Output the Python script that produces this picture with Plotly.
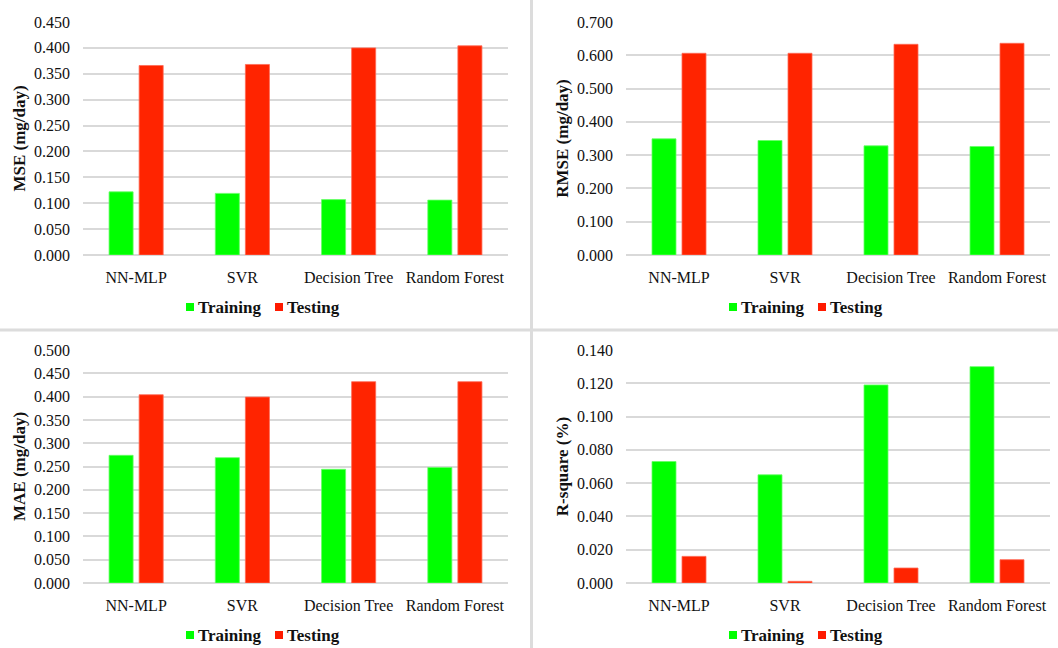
import plotly.graph_objects as go
from plotly.subplots import make_subplots

# Model names and error metrics for the training and testing sets
models = ["NN-MLP", "SVR", "Decision Tree", "Random Forest"]

mse_train = [0.122, 0.119, 0.107, 0.106]
mse_test = [0.366, 0.368, 0.400, 0.404]

rmse_train = [0.349, 0.344, 0.328, 0.326]
rmse_test = [0.606, 0.606, 0.633, 0.636]

mae_train = [0.274, 0.269, 0.244, 0.248]
mae_test = [0.404, 0.399, 0.432, 0.432]

r2_train = [0.073, 0.065, 0.119, 0.130]
r2_test = [0.016, 0.001, 0.009, 0.014]

series_names = ["Training", "Testing"]

panels = [
    ("MSE (mg/day)", mse_train, mse_test, 0.45, 0.05),
    ("RMSE (mg/day)", rmse_train, rmse_test, 0.70, 0.10),
    ("MAE (mg/day)", mae_train, mae_test, 0.50, 0.05),
    ("R-square (%)", r2_train, r2_test, 0.14, 0.02),
]

GREEN = "#00FF00"
RED = "#FF2400"
LEG_RED = "#FF1A00"
FONT = "Liberation Serif"
GRID = "#D9D9D9"
TXT = "#111111"

W, H = 1058, 648
# plot areas in pixels: (left, right, top, bottom)
boxes = [
    (83, 508, 22, 255),
    (626, 1050, 22, 255),
    (83, 508, 350, 583),
    (626, 1050, 350, 583),
]

fig = make_subplots(rows=2, cols=2)

for i, (title, tr, te, ymax, dtick) in enumerate(panels):
    r, c = i // 2 + 1, i % 2 + 1
    fig.add_trace(go.Bar(x=models, y=tr, name=series_names[0], marker_color=GREEN,
                         marker_line=dict(color="#66FF66", width=0.8),
                         showlegend=False),
                  row=r, col=c)
    fig.add_trace(go.Bar(x=models, y=te, name=series_names[1], marker_color=RED,
                         marker_line=dict(color="#FF6A55", width=0.8),
                         showlegend=False),
                  row=r, col=c)
    l, rt, t, b = boxes[i]
    sfx = "" if i == 0 else str(i + 1)
    fig.layout["xaxis" + sfx].update(
        domain=[l / W, rt / W], automargin=False,
        tickfont=dict(family=FONT, size=16, color=TXT),
        showline=False, ticks="", showgrid=False, ticklabelstandoff=11,
    )
    fig.layout["yaxis" + sfx].update(
        domain=[1 - b / H, 1 - t / H], automargin=False,
        range=[0, ymax], dtick=dtick, tickformat=".3f",
        showgrid=True, gridcolor=GRID, gridwidth=1.5,
        zeroline=True, zerolinecolor=GRID, zerolinewidth=1.5,
        tickfont=dict(family=FONT, size=16, color=TXT),
        ticklabelstandoff=12,
        title=dict(text="<b>" + title + "</b>", standoff=4,
                   font=dict(family=FONT, size=17, color=TXT)),
        showline=False, ticks="",
    )

    # legend: colour swatch followed by bold label, centred under the chart area
    ly = b + 52
    s = l + 103
    for (off, col, name) in [(0, GREEN, series_names[0]), (89, LEG_RED, series_names[1])]:
        fig.add_shape(type="rect", xref="paper", yref="paper",
                      x0=(s + off) / W, x1=(s + off + 8) / W,
                      y0=1 - (ly + 4) / H, y1=1 - (ly - 4) / H,
                      fillcolor=col, line=dict(width=0))
        fig.add_annotation(xref="paper", yref="paper",
                           x=(s + off + 10) / W, y=1 - ly / H,
                           xanchor="left", yanchor="middle", showarrow=False,
                           text="<b>" + name + "</b>",
                           font=dict(family=FONT, size=17, color=TXT))

# light separators between the four panels
fig.add_shape(type="line", xref="paper", yref="paper",
              x0=0, x1=1, y0=1 - 330 / H, y1=1 - 330 / H,
              line=dict(color="#DCDCDC", width=3))
fig.add_shape(type="line", xref="paper", yref="paper",
              x0=531.5 / W, x1=531.5 / W, y0=0, y1=1,
              line=dict(color="#DCDCDC", width=3))

fig.update_layout(
    width=W, height=H,
    margin=dict(l=0, r=0, t=0, b=0),
    paper_bgcolor="white", plot_bgcolor="white",
    barmode="group", bargap=0.434, bargroupgap=0.2,
    font=dict(family=FONT),
    showlegend=False,
)

fig.write_html("out.html")
